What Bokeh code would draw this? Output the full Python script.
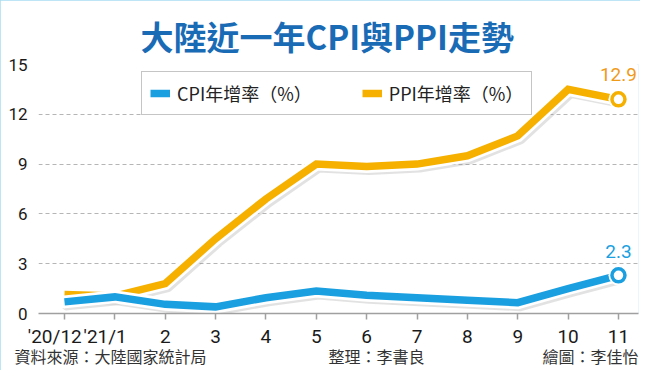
from bokeh.plotting import figure
from bokeh.models import Range1d, FixedTicker, Label, Legend, LegendItem, LinearAxis
from bokeh.embed import file_html
from bokeh.resources import INLINE

# ---- data ----
months = ["'20/12", "'21/1", "2", "3", "4", "5", "6", "7", "8", "9", "10", "11"]
cpi = [0.7, 1.0, 0.55, 0.4, 0.95, 1.35, 1.1, 0.95, 0.8, 0.65, 1.5, 2.3]
ppi = [1.15, 1.05, 1.8, 4.5, 6.9, 9.0, 8.85, 9.0, 9.5, 10.7, 13.5, 12.9]
y_ticks = [0, 3, 6, 9, 12, 15]
cpi_name = "CPI年增率（%）"
ppi_name = "PPI年增率（%）"
title_text = "大陸近一年CPI與PPI走勢"
footer_texts = ["資料來源：大陸國家統計局", "整理：李書良", "繪圖：李佳怡"]

idx = list(range(len(months)))

BLUE = "#1a9fe0"
GOLD = "#f5b000"
GOLD_TXT = "#f09a1a"
TITLE_BLUE = "#1a6bb5"
CJK = "Noto Sans CJK TC"
NUM = "Roboto"

W, H = 640, 370
ML, MR, MT, MB = 38, 2, 64, 57
tick_px = 50.36
x_lo = -(64 - ML) / tick_px
x_hi = x_lo + (W - ML - MR) / tick_px
y_lo, y_hi = 0, 15

p = figure(width=W, height=H, output_backend="svg", toolbar_location=None,
           x_range=Range1d(x_lo, x_hi), y_range=Range1d(y_lo, y_hi),
           min_border_left=ML, min_border_right=MR, min_border_top=MT,
           min_border_bottom=MB)
p.styles = {"outline": "3px solid #a9dcf3", "outline-offset": "-3px"}
p.outline_line_color = None
p.background_fill_color = "white"
p.border_fill_color = "white"

# title
p.title.text = title_text
p.title.align = "left"
p.title.offset = 140 - ML
p.title.text_font = CJK
p.title.text_font_style = "bold"
p.title.text_font_size = "33px"
p.title.text_color = TITLE_BLUE
p.title.standoff = 10

# shadow offset ranges (a few pixels right / down)
frame_h = H - MT - MB
px_y = frame_h / (y_hi - y_lo)
dx = 2.5 / tick_px
dy = 3.0 / px_y
p.extra_x_ranges = {"sh": Range1d(x_lo - dx, x_hi - dx)}
p.extra_y_ranges = {"sh": Range1d(y_lo + dy, y_hi + dy)}

# axes
pad = "\u2003"
p.xaxis.ticker = FixedTicker(ticks=idx)
p.xaxis.major_label_overrides = {i: (m + pad if m.startswith("'") else m)
                                 for i, m in zip(idx, months)}
p.xaxis.axis_line_color = "#a0a0a0"
p.xaxis.axis_line_width = 1.5
p.xaxis.major_tick_line_color = "#a0a0a0"
p.xaxis.major_tick_line_width = 1.5
p.xaxis.major_tick_out = 6
p.xaxis.major_tick_in = 0
p.xaxis.minor_tick_line_color = None
p.xaxis.major_label_standoff = 5
p.xaxis.major_label_text_font = NUM
p.xaxis.major_label_text_font_size = "19px"
p.xaxis.major_label_text_color = "#1a1a1a"

p.yaxis.ticker = FixedTicker(ticks=y_ticks)
p.yaxis.axis_line_color = None
p.yaxis.major_tick_line_color = None
p.yaxis.minor_tick_line_color = None
p.yaxis.major_label_standoff = 5
p.yaxis.major_label_text_font = NUM
p.yaxis.major_label_text_font_size = "17px"
p.yaxis.major_label_text_color = "#1a1a1a"

p.xgrid.visible = False
p.ygrid.ticker = FixedTicker(ticks=y_ticks)
p.ygrid.grid_line_color = "#b5b5b5"
p.ygrid.grid_line_dash = "4 3"
p.ygrid.grid_line_width = 1

# footer as a second, tick-less axis below (positions from pixel layout)
def px_to_x(px):
    return x_lo + (px - ML) / tick_px

foot_pos = [px_to_x(110), px_to_x(376), px_to_x(590)]
foot_axis = LinearAxis(ticker=FixedTicker(ticks=foot_pos),
                       major_label_overrides={v: t for v, t in zip(foot_pos, footer_texts)},
                       axis_line_color=None, major_tick_line_color=None,
                       minor_tick_line_color=None, major_tick_out=0, major_tick_in=0,
                       major_label_standoff=-7,
                       major_label_text_font=CJK, major_label_text_font_size="16px",
                       major_label_text_color="#333333")
p.add_layout(foot_axis, "below")

# lines: shadow, white outline, colour
line_r = {}
for name, vals, col in (("ppi", ppi, GOLD), ("cpi", cpi, BLUE)):
    p.line(idx, vals, line_color="#8a8a8a", line_alpha=0.25, line_width=11,
           line_join="round", line_cap="round",
           x_range_name="sh", y_range_name="sh")
    p.line(idx, vals, line_color="white", line_width=13,
           line_join="miter", line_cap="round")
    line_r[name] = p.line(idx, vals, line_color=col, line_width=7.5,
                          line_join="miter", line_cap="butt")

# end markers
for vals, col in ((ppi, GOLD), (cpi, BLUE)):
    p.scatter([idx[-1]], [vals[-1]], size=20, fill_color="white", line_color=None)
    p.scatter([idx[-1]], [vals[-1]], size=13, fill_color="white",
              line_color=col, line_width=3.5)

# value labels
p.add_layout(Label(x=idx[-1], y=ppi[-1], text=f"{ppi[-1]}", y_offset=25,
                   text_align="center", text_baseline="middle",
                   text_font=NUM, text_font_size="19px", text_color=GOLD_TXT))
p.add_layout(Label(x=idx[-1], y=cpi[-1], text=f"{cpi[-1]}", y_offset=24,
                   text_align="center", text_baseline="middle",
                   text_font=NUM, text_font_size="19px", text_color=BLUE))

# legend
legend = Legend(items=[LegendItem(label=cpi_name, renderers=[line_r["cpi"]]),
                       LegendItem(label=ppi_name, renderers=[line_r["ppi"]])],
                location=(103, 198), orientation="horizontal",
                glyph_width=20, glyph_height=16, label_height=16,
                label_standoff=7, spacing=50, padding=8, margin=0,
                border_line_color="#8c8c8c", border_line_width=1,
                background_fill_color="white", background_fill_alpha=1,
                label_text_font=CJK, label_text_font_size="18px",
                label_text_color="#222222")
p.add_layout(legend)

open("out.html", "w").write(file_html(p, INLINE))
